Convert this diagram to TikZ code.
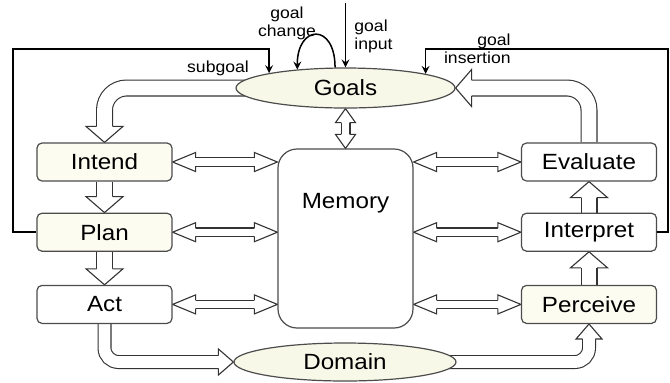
\documentclass[tikz,border=0pt]{standalone}
\usepackage{fontspec}
\setmainfont{Liberation Sans}[FakeStretch=1.1]
\usetikzlibrary{positioning,shapes.geometric,backgrounds,arrows}
\definecolor{paleFill}{RGB}{252,252,241}
\definecolor{ovalFill}{RGB}{248,248,232}
\newcommand\mainsize{\fontsize{11}{13}\selectfont}
\newcommand\tagsize{\fontsize{8}{9}\selectfont}
\tikzset{
  box/.style={rectangle, rounded corners=2.5pt, draw=black!70, line width=0.6pt, fill=white,
    minimum width=67.5pt, minimum height=19pt, inner sep=0pt, font=\mainsize},
  paleBox/.style={box, fill=paleFill},
  mem/.style={box, rounded corners=9.5pt, minimum height=89.5pt, text height=8pt, text depth=38.5pt},
  oval/.style={ellipse, draw=black!70, line width=0.6pt, fill=ovalFill, inner sep=0pt, font=\mainsize},
  tag/.style={font=\tagsize, inner sep=0pt},
  ctrl/.style={-stealth, line width=0.75pt},
  hollow/.style={draw=black!80, line width=0.55pt, double=white},
  bigArrow/.style={hollow, double distance=7.4pt, rounded corners=11pt, shorten >=7.7pt},
  midArrow/.style={hollow, double distance=5.9pt, rounded corners=7pt, shorten >=7.2pt},
  memArrow/.style={hollow, double distance=3.65pt, shorten <=11.2pt, shorten >=11.2pt},
  pics/hollowTip/.style n args={3}{code={
    \filldraw[draw=black!80, line width=0.55pt, fill=white, line join=miter]
      (-#1,#3) -- (-#1,#2) -- (0,0) -- (-#1,-#2) -- (-#1,-#3);}}
}
\begin{document}
\begin{tikzpicture}[x=0.5pt, y=-0.5pt]
  \useasboundingbox (0,0) rectangle (670,382);
  % middle column
  \node [oval, minimum width=109.5pt, minimum height=20pt] (Goals) at (345.5,88) {Goals};
  \node [mem] (Memory) at (345.5,238.5) {Memory};
  \node [oval, minimum width=111pt, minimum height=19pt] (Domain) at (345,362) {Domain};
  % left column
  \node [paleBox] (Intend) at (104.5,162) {Intend};
  \node [paleBox, below=15.5pt of Intend] (Plan) {Plan};
  \node [box, below=16.5pt of Plan] (Act) {Act};
  % right column
  \node [box] (Evaluate) at (589,162) {Evaluate};
  \node [box, below=15.5pt of Evaluate] (Interpret) {Interpret};
  \node [paleBox, below=16.5pt of Interpret] (Perceive) {Perceive};

  \begin{scope}[on background layer]
    % the cycle
    \draw [bigArrow] (Goals.center) -| (Intend.north);
    \draw [bigArrow] (Intend.south) -- (Plan.north);
    \draw [bigArrow] (Plan.south) -- (Act.north);
    \draw [midArrow] (Act.south) |- (Domain.west);
    \draw [midArrow] (Domain.center) -| (Perceive.south);
    \draw [bigArrow] (Perceive.north) -- (Interpret.south);
    \draw [bigArrow] (Interpret.north) -- (Evaluate.south);
    \draw [bigArrow] (Evaluate.north) |- (Goals.east);
    \pic [rotate=-90] at (Intend.north) {hollowTip={16}{18.5}{8}};
    \pic [rotate=-90] at (Plan.north) {hollowTip={16}{18.5}{8}};
    \pic [rotate=-90] at (Act.north) {hollowTip={16}{18.5}{8}};
    \pic at (Domain.west) {hollowTip={15}{13}{6.45}};
    \pic [rotate=90] at (Perceive.south) {hollowTip={15}{13}{6.45}};
    \pic [rotate=90] at (Interpret.south) {hollowTip={16}{18.5}{8}};
    \pic [rotate=90] at (Evaluate.south) {hollowTip={16}{18.5}{8}};
    \pic [rotate=180] at (Goals.east) {hollowTip={16}{18.5}{8}};
    % memory links
    \draw [memArrow, double distance=3.9pt, shorten <=6.7pt, shorten >=6.7pt] (Goals.south) -- (Memory.north);
    \pic [rotate=90] at (Goals.south) {hollowTip={14}{10}{4.45}};
    \pic [rotate=-90] at (Memory.north) {hollowTip={14}{10}{4.45}};
    \draw [memArrow] (Intend.east) -- (Intend.east -| Memory.west);
    \pic [rotate=180] at (Intend.east) {hollowTip={23}{9.5}{4.2}};
    \pic at (Intend.east -| Memory.west) {hollowTip={23}{9.5}{4.2}};
    \draw [memArrow] (Plan.east) -- (Plan.east -| Memory.west);
    \pic [rotate=180] at (Plan.east) {hollowTip={23}{9.5}{4.2}};
    \pic at (Plan.east -| Memory.west) {hollowTip={23}{9.5}{4.2}};
    \draw [memArrow] (Act.east) -- (Act.east -| Memory.west);
    \pic [rotate=180] at (Act.east) {hollowTip={23}{9.5}{4.2}};
    \pic at (Act.east -| Memory.west) {hollowTip={23}{9.5}{4.2}};
    \draw [memArrow] (Evaluate.west) -- (Evaluate.west -| Memory.east);
    \pic at (Evaluate.west) {hollowTip={23}{9.5}{4.2}};
    \pic [rotate=180] at (Evaluate.west -| Memory.east) {hollowTip={23}{9.5}{4.2}};
    \draw [memArrow] (Interpret.west) -- (Interpret.west -| Memory.east);
    \pic at (Interpret.west) {hollowTip={23}{9.5}{4.2}};
    \pic [rotate=180] at (Interpret.west -| Memory.east) {hollowTip={23}{9.5}{4.2}};
    \draw [memArrow] (Perceive.west) -- (Perceive.west -| Memory.east);
    \pic at (Perceive.west) {hollowTip={23}{9.5}{4.2}};
    \pic [rotate=180] at (Perceive.west -| Memory.east) {hollowTip={23}{9.5}{4.2}};
  \end{scope}

  % goal control lines
  \coordinate (subCorner) at (13,49);
  \coordinate (insCorner) at (668,49);
  \coordinate (inputTop) at (345.5,3);
  \draw [ctrl] (Plan.west) -| (subCorner) -| (Goals.169);
  \draw [ctrl] (Interpret.east) -| (insCorner) -| (Goals.10);
  \draw [ctrl] (inputTop) -- (Goals.north);
  \draw [ctrl] (Goals.117) .. controls +(0,-45) and +(0,-45) .. (Goals.159);
  \node [tag, align=center] (changeLbl) at (287,23) {goal\\change};
  \node [tag, align=left, anchor=west] (inputLbl) at (354,36) {goal\\input};
  \node [tag] (subLbl) at (218,68) {subgoal};
  \node [tag, align=right, anchor=east] (insLbl) at (511,49) {goal\\insertion};
\end{tikzpicture}
\end{document}
